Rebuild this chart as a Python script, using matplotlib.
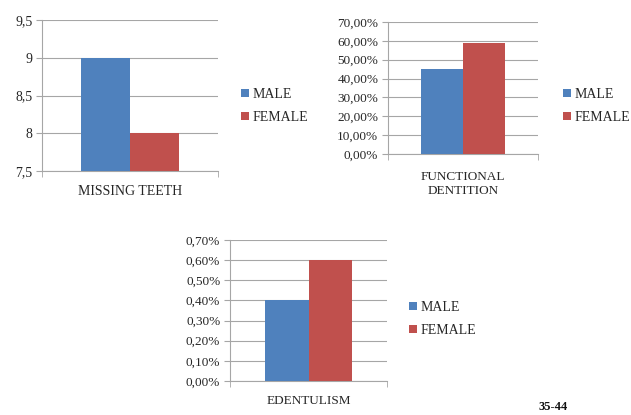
import matplotlib
matplotlib.use("Agg")
import matplotlib.pyplot as plt
from matplotlib.ticker import FuncFormatter

plt.rcParams['font.family'] = ['Liberation Serif', 'DejaVu Serif']

series = ["MALE", "FEMALE"]
colors = ["#4F81BD", "#C0504D"]

missing_cat = "MISSING TEETH"
missing_vals = [9.0, 8.0]
missing_ticks = [7.5, 8.0, 8.5, 9.0, 9.5]

functional_cat = "FUNCTIONAL\nDENTITION"
functional_vals = [45.0, 59.0]
functional_ticks = [0, 10, 20, 30, 40, 50, 60, 70]

edentulism_cat = "EDENTULISM"
edentulism_vals = [0.40, 0.60]
edentulism_ticks = [0.0, 0.1, 0.2, 0.3, 0.4, 0.5, 0.6, 0.7]

age_group = "35-44"

fig = plt.figure(figsize=(6.31, 4.15), dpi=100)
fig.patch.set_facecolor("white")

grid_col = "#A6A6A6"
text_col = "#262626"


def comma_num(v, _=None):
    s = f"{v:g}"
    return s.replace(".", ",")


def comma_pct(v, _=None):
    return f"{v:.2f}%".replace(".", ",")


def draw_panel(rect, cat, vals, ticks, fmt, legend_xy, fs, xpad=10, lsp=1.1):
    ax = fig.add_axes(rect)
    width = 0.28
    offsets = [-width / 2, width / 2]
    base = ticks[0]
    handles = []
    for off, v, c, name in zip(offsets, vals, colors, series):
        b = ax.bar(off, v - base, width=width, bottom=base, color=c,
                   label=name, zorder=3, linewidth=0)
        handles.append(b)
    ax.set_xlim(-0.5, 0.5)
    ax.set_ylim(ticks[0], ticks[-1])
    ax.set_yticks(ticks)
    ax.yaxis.set_major_formatter(FuncFormatter(fmt))
    ax.yaxis.grid(True, color=grid_col, linewidth=0.8, zorder=0)
    ax.set_xticks([0])
    ax.set_xticklabels([cat], fontsize=fs, color=text_col, linespacing=lsp)
    ax.tick_params(axis="x", length=0, pad=xpad)
    ax.set_xticks([-0.5, 0.5], minor=True)
    ax.tick_params(axis="x", which="minor", length=4, color=grid_col, direction="out")
    ax.tick_params(axis="y", length=4, color=grid_col, labelsize=fs,
                   labelcolor=text_col, pad=3)
    for s in ("top", "right"):
        ax.spines[s].set_visible(False)
    for s in ("left", "bottom"):
        ax.spines[s].set_color(grid_col)
        ax.spines[s].set_linewidth(0.8)
    ax.legend(handles=handles, loc="center left", bbox_to_anchor=legend_xy,
              bbox_transform=fig.transFigure, frameon=False,
              handlelength=0.55, handleheight=0.55, handletextpad=0.25,
              labelspacing=0.75, fontsize=10, borderaxespad=0,
              borderpad=0, labelcolor=text_col)
    return ax


draw_panel([42 / 631, 1 - 171 / 415, 176 / 631, 151 / 415],
           missing_cat, missing_vals, missing_ticks, comma_num,
           (241 / 631, 1 - 106 / 415), 10, xpad=10)

draw_panel([388 / 631, 1 - 154 / 415, 150 / 631, 132 / 415],
           functional_cat, functional_vals, functional_ticks, comma_pct,
           (563 / 631, 1 - 106 / 415), 9.5, xpad=12, lsp=1.3)

draw_panel([230 / 631, 1 - 381 / 415, 157 / 631, 141 / 415],
           edentulism_cat, edentulism_vals, edentulism_ticks, comma_pct,
           (409 / 631, 1 - 319 / 415), 9.5, xpad=10)

fig.text(553 / 631, 1 - 407 / 415, age_group, fontsize=9, fontweight="bold",
         ha="center", va="center", color="#111111")

fig.savefig("out.png", dpi=100, facecolor="white")
